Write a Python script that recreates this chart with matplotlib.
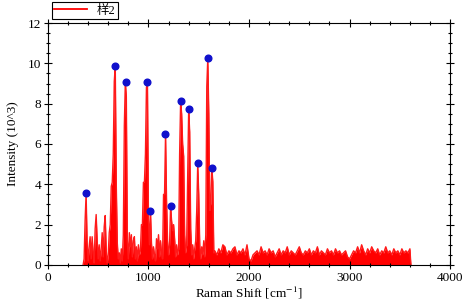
import numpy as np
import matplotlib
matplotlib.use("Agg")
import matplotlib.pyplot as plt
from matplotlib.ticker import MultipleLocator
from matplotlib.lines import Line2D

plt.rcParams['font.family'] = ['Liberation Serif', 'Noto Sans CJK SC']
plt.rcParams['mathtext.fontset'] = 'stix'

# spectrum, peak region (10 cm^-1 step from 350)
shift_a = np.arange(350, 1660, 10)
inten_a = [0, 0.3, 2.2, 3.56, 1.1, 0.2, 0.9, 1.4, 0.3, 1.4,
           0.6, 0.1, 1.8, 2.5, 1.2, 0.3, 1.0, 0.2, 0.8, 1.6,
           0.4, 1.9, 2.45, 0.7, 0.1, 0.5, 1.6, 2.0, 3.9, 4.1,
           5.5, 9.1, 9.88, 4.0, 1.1, 0.3, 0.6, 0.1, 0.8, 0.2,
           1.5, 6.9, 9.07, 8.35, 1.2, 0.3, 1.6, 0.9, 1.5, 0.4,
           1.2, 1.4, 0.3, 0.9, 0.2, 1.0, 0.5, 0.7, 2.0, 2.0,
           4.1, 4.1, 5.5, 8.8, 9.07, 2.3, 1.0, 2.69, 1.1, 0.3,
           0.9, 0.5, 0.2, 1.3, 0.8, 1.5, 0.4, 1.2, 0.6, 0.3,
           3.5, 3.5, 6.5, 3.2, 1.2, 0.5, 1.0, 2.93, 2.2, 1.7,
           2.0, 1.3, 0.4, 1.0, 0.5, 0.8, 5.5, 8.11, 7.5, 6.0,
           5.4, 1.5, 0.6, 1.0, 4.5, 7.72, 6.6, 1.8, 0.5, 1.0,
           0.3, 0.8, 1.2, 2.7, 5.04, 3.5, 1.0, 0.3, 0.9, 0.5,
           1.2, 0.4, 1.5, 8.84, 10.25, 7.5, 2.7, 3.07, 4.84, 4.13,
           0.6]

# spectrum, baseline noise region (20 cm^-1 step from 1660)
shift_b = np.arange(1660, 3620, 20)
inten_b = [0.7, 0.5, 0.8, 0.6, 1.0, 0.9, 0.5, 0.7, 0.6, 0.8,
           0.9, 0.5, 0.7, 0.6, 0.8, 0.5, 1.0, 0.3, 0.2, 0.5,
           0.6, 0.7, 0.5, 0.9, 0.6, 0.7, 0.5, 0.8, 0.6, 0.7,
           0.4, 0.6, 0.8, 0.5, 0.7, 0.6, 0.9, 0.5, 0.7, 0.6,
           0.5, 0.7, 0.9, 0.6, 0.5, 0.7, 0.6, 0.8, 0.5, 0.7,
           0.6, 0.9, 0.5, 0.7, 0.6, 0.5, 0.8, 0.6, 0.7, 0.5,
           0.8, 0.6, 0.7, 0.5, 0.6, 0.7, 0.4, 0.3, 0.5, 0.7,
           0.6, 0.9, 0.6, 1.0, 0.7, 0.5, 0.8, 0.6, 0.9, 0.7,
           0.6, 0.8, 0.5, 0.7, 0.6, 0.9, 0.6, 0.7, 0.5, 0.8,
           0.6, 0.7, 0.5, 0.8, 0.6, 0.7, 0.6, 0.8]

# marked peaks
peak_x = [381, 670, 773, 985, 1018, 1167, 1221, 1323, 1403, 1496, 1589, 1629]
peak_y = [3.56, 9.88, 9.09, 9.09, 2.69, 6.5, 2.93, 8.11, 7.72, 5.04, 10.25, 4.82]

x = np.concatenate([shift_a, shift_b, [3610]])
y = np.concatenate([inten_a[:len(shift_a)], inten_b[:len(shift_b)], [0]])

fig = plt.figure(figsize=(4.65, 3.07), dpi=100)
ax = fig.add_axes([0.103, 0.137, 0.865, 0.788])

ax.fill_between(x, 0, y, color='#ff0000', lw=0)
ax.plot(x, y, color='#ff1a1a', lw=1.0)
ax.plot(peak_x, peak_y, 'o', color='#1010cc', ms=4.8, zorder=5)

ax.set_xlim(0, 4000)
ax.set_ylim(0, 12)
ax.xaxis.set_major_locator(MultipleLocator(1000))
ax.xaxis.set_minor_locator(MultipleLocator(200))
ax.yaxis.set_major_locator(MultipleLocator(2))
ax.yaxis.set_minor_locator(MultipleLocator(0.5))
ax.tick_params(which='both', direction='inout', top=True, right=True,
               labelsize=9.5, width=0.8, pad=2)
ax.tick_params(which='major', length=6)
ax.tick_params(which='minor', length=3.5)
for s in ax.spines.values():
    s.set_linewidth(0.8)

ax.set_xlabel('Raman Shift [cm$^{-1}$]', fontsize=9.5, labelpad=1)
ax.set_ylabel('Intensity (10^3)', fontsize=9.5, labelpad=6)

handle = Line2D([], [], color='#ff0000', lw=1.3)
leg = ax.legend([handle], ['样2'], loc='lower left', bbox_to_anchor=(0.0, 1.0),
                fontsize=9, fancybox=False, edgecolor='black', borderpad=0.2,
                handlelength=2.6, handletextpad=0.8, borderaxespad=0.3,
                framealpha=1)
leg.get_frame().set_linewidth(0.8)

fig.savefig('out.png', dpi=100)
